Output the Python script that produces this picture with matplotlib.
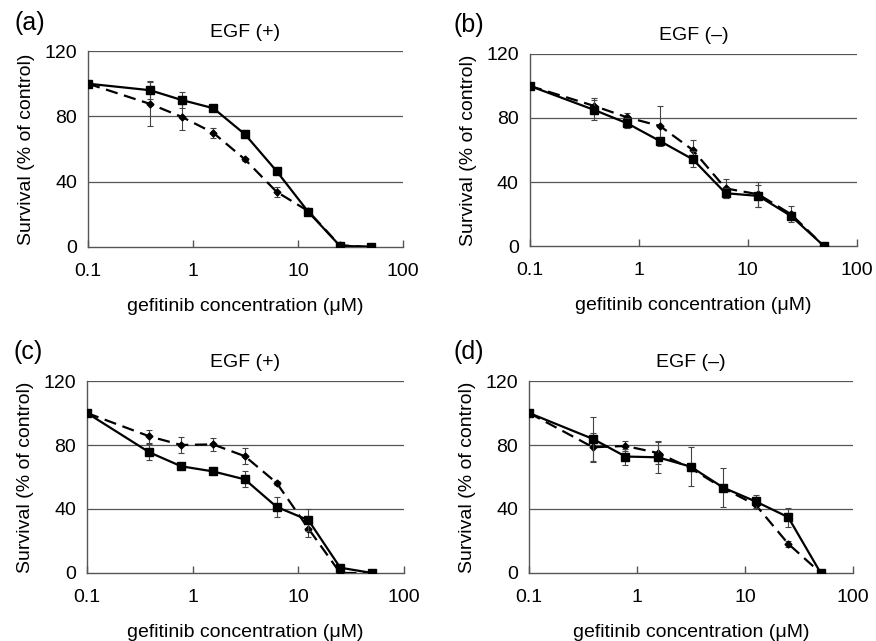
import matplotlib
matplotlib.use("Agg")
import matplotlib.pyplot as plt
from matplotlib.ticker import FixedLocator, NullLocator

plt.rcParams['font.family'] = ['Liberation Sans', 'DejaVu Sans']

conc = [0.1, 0.39, 0.78, 1.56, 3.125, 6.25, 12.5, 25, 50]

# (a) EGF (+)
a_sq = [100, 96, 90, 85, 69, 46.5, 21.6, 0.8, 0]
a_sq_err = [0, 5.5, 5, 1, 2.5, 1, 1, 0.5, 0]
a_di = [100, 87.6, 79.7, 69.9, 53.6, 33.8, 22, 1, 0]
a_di_err = [0, 13.5, 8, 3, 1, 3, 1, 0.5, 0]

# (b) EGF (-)
b_sq = [100, 85, 76.7, 65.6, 54.2, 33, 31.3, 18.7, 0]
b_sq_err = [0, 6, 3, 2, 5, 3, 7, 2, 0]
b_di = [100, 87.5, 80.4, 75, 60, 36, 32.3, 19.8, 0]
b_di_err = [0, 5, 3, 12.5, 6, 6, 8, 5, 0]

# (c) EGF (+)
c_sq = [100, 75.4, 66.7, 63.5, 58.5, 41.3, 33, 3.3, 0]
c_sq_err = [0, 5, 2, 1, 5, 6, 7, 1, 0]
c_di = [100, 85.4, 80, 80.4, 73, 56.3, 27.7, 0, 0]
c_di_err = [0, 4, 5, 4, 5, 1, 5, 2, 0]

# (d) EGF (-)
d_sq = [100, 83.8, 72.8, 72.3, 66.5, 53.4, 44.7, 34.9, 0]
d_sq_err = [0, 14, 5, 10, 12, 12, 4, 6, 0]
d_di = [100, 78.6, 79.4, 75, 65.5, 53, 42.6, 18.3, 0]
d_di_err = [0, 9, 3, 7, 2, 2, 2, 2, 0]

panels = [
    ("(a)", "EGF (+)", a_sq, a_sq_err, a_di, a_di_err, [0.1005, 0.6147, 0.3595, 0.3057], 1.143),
    ("(b)", "EGF (\u2013)", b_sq, b_sq_err, b_di, b_di_err, [0.605, 0.6162, 0.373, 0.2996], 1.150),
    ("(c)", "EGF (+)", c_sq, c_sq_err, c_di, c_di_err, [0.0993, 0.1061, 0.3617, 0.2995], 1.151),
    ("(d)", "EGF (\u2013)", d_sq, d_sq_err, d_di, d_di_err, [0.604, 0.1061, 0.370, 0.2995], 1.151),
]

fig = plt.figure(figsize=(8.76, 6.41), dpi=100)

for label, title, sq, sqe, di, die, pos, ly in panels:
    ax = fig.add_axes(pos)
    ax.set_xscale('log')
    ax.set_xlim(0.1, 100)
    ax.set_ylim(0, 120)

    for y in [40, 80, 120]:
        ax.axhline(y, color='#555555', lw=0.9, zorder=1)

    ax.errorbar(conc, di, yerr=die, color='black', lw=1.6, dashes=(5.5, 3),
                marker='D', ms=3.5, ecolor='#444444', elinewidth=0.8,
                capsize=2.5, capthick=0.8, zorder=3)
    ax.errorbar(conc, sq, yerr=sqe, color='black', lw=1.6,
                marker='s', ms=6, ecolor='#444444', elinewidth=0.8,
                capsize=2.5, capthick=0.8, zorder=4)

    for s in ['top', 'right']:
        ax.spines[s].set_visible(False)
    for s in ['left', 'bottom']:
        ax.spines[s].set_color('#555555')
        ax.spines[s].set_linewidth(1.0)

    ax.xaxis.set_major_locator(FixedLocator([0.1, 1, 10, 100]))
    ax.xaxis.set_minor_locator(NullLocator())
    ax.set_xticklabels(['0.1', '1', '10', '100'])
    ax.set_yticks([0, 40, 80, 120])
    ax.tick_params(axis='x', direction='in', length=5, width=1.0, color='#555555',
                   labelsize=14, pad=11.5)
    ax.tick_params(axis='y', length=0, labelsize=14, pad=8)

    ax.set_xlabel('gefitinib concentration (\u03bcM)', fontsize=14, labelpad=13)
    ax.set_ylabel('Survival (% of control)', fontsize=14, labelpad=7)
    ax.set_title(title, fontsize=14, pad=10)
    ax.text(-0.233, ly, label, transform=ax.transAxes, fontsize=18,
            ha='left', va='center')

fig.savefig('out.png', dpi=100)
